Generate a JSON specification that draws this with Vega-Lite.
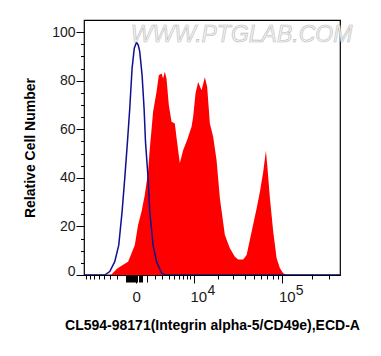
{
  "$schema": "https://vega.github.io/schema/vega-lite/v6.json",
  "width": 256,
  "height": 255,
  "autosize": {"type": "none"},
  "padding": {"left": 84, "top": 20, "right": 41, "bottom": 81},
  "background": "white",
  "config": {
    "view": {"stroke": "#000000", "strokeWidth": 1.2},
    "font": "Liberation Sans"
  },
  "datasets": {
    "sample": [
      {"x": -3700, "count": 0}, {"x": -2800, "count": 0.2}, {"x": -1995, "count": 2.7}, {"x": -1326, "count": 4.1},
      {"x": -756, "count": 5.5}, {"x": -444, "count": 8.6}, {"x": -128, "count": 12.3}, {"x": 154, "count": 20.6},
      {"x": 463, "count": 26.0}, {"x": 786, "count": 32.9}, {"x": 1135, "count": 42.5}, {"x": 1326, "count": 52.1},
      {"x": 1524, "count": 59.7}, {"x": 1717, "count": 67.2}, {"x": 2153, "count": 75.4}, {"x": 2467, "count": 82.3},
      {"x": 2859, "count": 83.0}, {"x": 3102, "count": 80.9}, {"x": 3370, "count": 83.7}, {"x": 3650, "count": 80.9},
      {"x": 4046, "count": 70.0}, {"x": 4538, "count": 63.1}, {"x": 5182, "count": 62.4}, {"x": 5597, "count": 55.6},
      {"x": 6256, "count": 46.0}, {"x": 7035, "count": 51.4}, {"x": 8062, "count": 55.6}, {"x": 9307, "count": 61.0},
      {"x": 9791, "count": 65.1}, {"x": 10552, "count": 74.8}, {"x": 11426, "count": 79.5}, {"x": 12649, "count": 76.1},
      {"x": 13933, "count": 81.4}, {"x": 14885, "count": 77.5}, {"x": 16071, "count": 62.4}, {"x": 17622, "count": 56.9},
      {"x": 19349, "count": 47.3}, {"x": 21159, "count": 31.6}, {"x": 24174, "count": 16.5}, {"x": 27561, "count": 11.0},
      {"x": 31350, "count": 7.5}, {"x": 34109, "count": 6.4}, {"x": 38701, "count": 6.4}, {"x": 42143, "count": 8.2},
      {"x": 47706, "count": 17.8}, {"x": 53958, "count": 27.4}, {"x": 58488, "count": 34.3}, {"x": 63382, "count": 42.5},
      {"x": 67656, "count": 51.2}, {"x": 69821, "count": 45.3}, {"x": 74511, "count": 31.6}, {"x": 80665, "count": 17.8},
      {"x": 87501, "count": 6.9}, {"x": 94666, "count": 2.8}, {"x": 102419, "count": 0.7}, {"x": 111033, "count": 0}
    ],
    "control": [
      {"x": -8450, "count": 0}, {"x": -3873, "count": 0}, {"x": -3055, "count": 1.4}, {"x": -2329, "count": 5.5},
      {"x": -1804, "count": 12.3}, {"x": -1406, "count": 26.0}, {"x": -1102, "count": 39.9}, {"x": -817, "count": 54.9},
      {"x": -588, "count": 68.6}, {"x": -369, "count": 85.1}, {"x": -171, "count": 93.4}, {"x": 17, "count": 95.8},
      {"x": 171, "count": 94.7}, {"x": 305, "count": 91.9}, {"x": 520, "count": 82.3}, {"x": 715, "count": 68.6},
      {"x": 858, "count": 54.9}, {"x": 1135, "count": 39.9}, {"x": 1326, "count": 26.0}, {"x": 1717, "count": 12.3},
      {"x": 2153, "count": 5.5}, {"x": 2859, "count": 0.8}, {"x": 3370, "count": 0}, {"x": 386000, "count": 0}
    ],
    "watermark": [
      {"x": 37170, "count": 99, "text": "WWW.PTGLAB.COM"}
    ]
  },
  "resolve": {"axis": {"x": "independent", "y": "independent"}},
  "layer": [
    {
      "data": {"name": "sample"},
      "mark": {"type": "area", "color": "#ff0000", "clip": true},
      "encoding": {
        "x": {
          "field": "x", "type": "quantitative",
          "scale": {"type": "symlog", "constant": 3650, "domain": [-8450, 386000], "nice": false, "zero": false},
          "axis": {
            "title": "CL594-98171(Integrin alpha-5/CD49e),ECD-A",
            "titleFont": "Liberation Sans", "titleFontSize": 14, "titleFontWeight": "bold", "titleColor": "#000000",
            "titlePadding": 14,
            "values": [-8000, -7000, -6000, -5000, -4000, -3000, -2000, -1000, -900, -800, -700, -600, -500, -400, -300, -200, -100, 0, 100, 200, 300, 400, 500, 1000, 2000, 3000, 4000, 5000, 6000, 7000, 8000, 9000, 10000, 20000, 30000, 40000, 50000, 60000, 70000, 80000, 90000, 100000, 200000, 300000],
            "labelExpr": "datum.value == 0 ? '0' : (datum.value == 10000 || datum.value == 100000) ? '10' : ''",
            "labelOverlap": false, "labelFlush": false,
            "labelFont": "Liberation Sans", "labelFontSize": 15, "labelColor": "#1a1a1a",
            "labelPadding": 6,
            "labelOffset": {"condition": {"test": "datum.value >= 10000", "value": 4.5}, "value": 0},
            "domain": false, "grid": false,
            "tickColor": "#000000",
            "tickSize": {"condition": [
              {"test": "datum.value == 0 || datum.value == 10000 || datum.value == 100000", "value": 8},
              {"test": "abs(datum.value) <= 1000", "value": 7}
            ], "value": 4}
          }
        },
        "y": {
          "field": "count", "type": "quantitative",
          "scale": {"domain": [0, 105], "nice": false, "zero": false},
          "axis": {
            "title": "Relative Cell Number",
            "titleFont": "Liberation Sans", "titleFontSize": 14, "titleFontWeight": "bold", "titleColor": "#000000",
            "titlePadding": 14,
            "values": [0, 5, 10, 15, 20, 25, 30, 35, 40, 45, 50, 55, 60, 65, 70, 75, 80, 85, 90, 95, 100],
            "labelExpr": "datum.value % 20 == 0 ? datum.label : ''",
            "labelOverlap": false, "labelFlush": false,
            "labelFont": "Liberation Sans", "labelFontSize": 14, "labelColor": "#1a1a1a",
            "labelPadding": 1,
            "labelBaseline": {"condition": {"test": "datum.value == 0", "value": "alphabetic"}, "value": "middle"},
            "domain": false, "grid": false,
            "tickColor": "#000000",
            "tickSize": {"condition": {"test": "datum.value % 20 == 0", "value": 8}, "value": 3.5}
          }
        }
      }
    },
    {
      "data": {"name": "control"},
      "mark": {"type": "line", "color": "#10108f", "strokeWidth": 1.5, "clip": true},
      "encoding": {
        "x": {
          "field": "x", "type": "quantitative",
          "axis": {
            "orient": "bottom", "title": null,
            "values": [10000, 100000],
            "labelExpr": "datum.value == 10000 ? '4' : '5'",
            "labelFont": "Liberation Sans", "labelFontSize": 14, "labelColor": "#1a1a1a",
            "labelOffset": 17, "labelPadding": 8,
            "ticks": false, "domain": false, "grid": false, "labelOverlap": false, "labelFlush": false
          }
        },
        "y": {"field": "count", "type": "quantitative", "axis": null}
      }
    },
    {
      "data": {"name": "watermark"},
      "mark": {"type": "text", "font": "Liberation Sans", "fontStyle": "italic", "fontSize": 23, "fill": "#f2f2f2", "stroke": "#bdbdbd", "strokeWidth": 0.6, "align": "center", "baseline": "middle"},
      "encoding": {
        "x": {"field": "x", "type": "quantitative", "axis": null},
        "y": {"field": "count", "type": "quantitative", "axis": null},
        "text": {"field": "text"}
      }
    }
  ]
}
